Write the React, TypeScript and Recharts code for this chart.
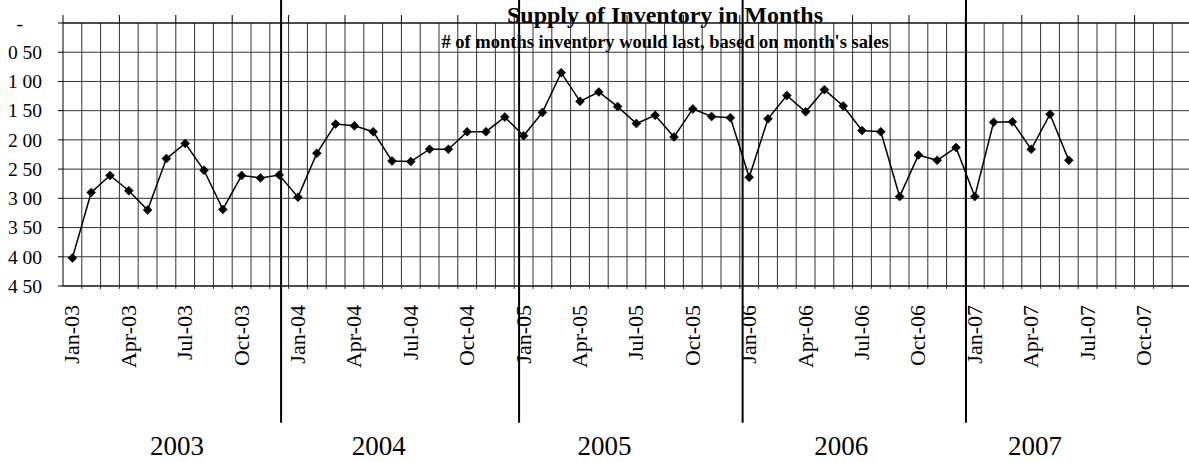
import React from 'react';
import {
  LineChart,
  Line,
  XAxis,
  YAxis,
  CartesianGrid,
  ReferenceLine,
  ReferenceDot,
} from 'recharts';

// ---------- data ----------
const monthNames = ['Jan', 'Feb', 'Mar', 'Apr', 'May', 'Jun', 'Jul', 'Aug', 'Sep', 'Oct', 'Nov', 'Dec'];
const yearSuffixes = ['03', '04', '05', '06', '07'];
const categories: string[] = yearSuffixes.flatMap((y) => monthNames.map((m) => `${m}-${y}`));

const supply2003 = [4.02, 2.9, 2.61, 2.87, 3.2, 2.32, 2.06, 2.52, 3.19, 2.61, 2.65, 2.6];
const supply2004 = [2.98, 2.23, 1.73, 1.76, 1.86, 2.36, 2.37, 2.16, 2.16, 1.86, 1.86, 1.61];
const supply2005 = [1.93, 1.53, 0.85, 1.34, 1.18, 1.43, 1.72, 1.58, 1.95, 1.47, 1.6, 1.62];
const supply2006 = [2.64, 1.64, 1.24, 1.52, 1.14, 1.42, 1.84, 1.86, 2.97, 2.26, 2.35, 2.13];
const supply2007 = [2.97, 1.7, 1.69, 2.16, 1.56, 2.35];
const supplyValues: number[] = [...supply2003, ...supply2004, ...supply2005, ...supply2006, ...supply2007];

const yTickValues = [0, 0.5, 1, 1.5, 2, 2.5, 3, 3.5, 4, 4.5];
const yTickLabels = ['-', '0 50', '1 00', '1 50', '2 00', '2 50', '3 00', '3 50', '4 00', '4 50'];

const xLabelTicks = [0, 3, 6, 9, 12, 15, 18, 21, 24, 27, 30, 33, 36, 39, 42, 45, 48, 51, 54, 57];

const yearLabels = ['2003', '2004', '2005', '2006', '2007'];
const yearLabelPos = [5.56, 16.3, 28.3, 40.9, 51.2];
const yearSeparators = [11.1, 23.76, 35.65, 47.53];

const title = 'Supply of Inventory in Months';
const subtitle = "# of months inventory would last, based on month's sales";

const data = categories.map((c, i) => ({
  idx: i,
  label: c,
  value: i < supplyValues.length ? supplyValues[i] : null,
}));

// layout helpers (not data)
const monthBoundaries = Array.from({ length: 59 }, (_, k) => k + 0.5);
const quarterBoundaries = xLabelTicks.map((t) => t - 0.5);

const FONT = "'Liberation Serif', 'Times New Roman', Times, serif";

const Diamond = (props: any) => {
  const { cx, cy, index, value } = props;
  if (cx == null || cy == null || value == null || Number.isNaN(cy)) return <g key={`d${index}`} />;
  const s = 4.5;
  return (
    <path
      key={`d${index}`}
      d={`M${cx},${cy - s}L${cx + s},${cy}L${cx},${cy + s}L${cx - s},${cy}Z`}
      fill="#000"
      stroke="#000"
      strokeWidth={0.5}
    />
  );
};

const XTick = (props: any) => {
  const { x, y, payload } = props;
  const bx = x + 7;
  const by = y;
  return (
    <text
      x={bx}
      y={by}
      transform={`rotate(-90 ${bx} ${by})`}
      textAnchor="end"
      fontFamily={FONT}
      fontSize={22}
      fill="#000"
    >
      {categories[payload.value]}
    </text>
  );
};

const YTick = (props: any) => {
  const { x, y, payload } = props;
  const i = yTickValues.indexOf(payload.value);
  const label = i >= 0 ? yTickLabels[i] : '';
  const isDash = payload.value === 0;
  return (
    <text
      x={isDash ? x - 19 : x}
      y={y}
      dy="0.35em"
      textAnchor="end"
      fontFamily={FONT}
      fontSize={19.5}
      fill="#000"
    >
      {label}
    </text>
  );
};

export default function App() {
  return (
    <div
      style={{
        position: 'absolute',
        left: 0,
        top: 0,
        width: 1189,
        height: 462,
        overflow: 'hidden',
        background: '#fff',
      }}
    >
      <LineChart
        width={1191}
        height={462}
        data={data}
        margin={{ top: 0, right: 0, bottom: 0, left: 0 }}
      >
        <CartesianGrid xAxisId="main" vertical={false} stroke="#333" strokeWidth={1} />
        <XAxis
          xAxisId="top"
          orientation="top"
          dataKey="idx"
          type="number"
          domain={[-0.5, 59.5]}
          allowDataOverflow
          ticks={quarterBoundaries}
          interval={0}
          tickSize={8}
          tickFormatter={() => ''}
          height={23}
          stroke="#000"
          tickLine={{ stroke: '#000' }}
        />
        <XAxis
          xAxisId="main"
          dataKey="idx"
          type="number"
          domain={[-0.5, 59.5]}
          allowDataOverflow
          ticks={xLabelTicks}
          interval={0}
          tickLine={false}
          tickSize={0}
          tickMargin={19}
          tick={<XTick />}
          height={176}
          stroke="#000"
        />
        <YAxis
          reversed
          domain={[0, 4.5]}
          ticks={yTickValues}
          interval={0}
          width={63}
          tickSize={5}
          tickMargin={16}
          tick={<YTick />}
          stroke="#000"
          tickLine={{ stroke: '#000' }}
        />
        {monthBoundaries.map((b) => (
          <ReferenceLine
            key={`vb${b}`}
            xAxisId="main"
            segment={[
              { x: b, y: 0 },
              { x: b, y: 4.55 },
            ]}
            ifOverflow="visible"
            stroke="#333"
            strokeWidth={1}
          />
        ))}
        {yearSeparators.map((s) => (
          <ReferenceLine
            key={`ys${s}`}
            xAxisId="main"
            segment={[
              { x: s, y: -0.4 },
              { x: s, y: 6.84 },
            ]}
            ifOverflow="visible"
            stroke="#000"
            strokeWidth={2}
          />
        ))}
        {yearLabels.map((yl, i) => (
          <ReferenceDot
            key={`yl${yl}`}
            xAxisId="main"
            x={yearLabelPos[i]}
            y={7.39}
            r={1}
            ifOverflow="visible"
            shape={(p: any) => (
              <text
                x={p.cx}
                y={p.cy}
                textAnchor="middle"
                fontFamily={FONT}
                fontSize={27}
                fill="#000"
              >
                {yl}
              </text>
            )}
          />
        ))}
        <Line
          xAxisId="main"
          type="linear"
          dataKey="value"
          stroke="#000"
          strokeWidth={1.5}
          dot={Diamond}
          activeDot={false}
          isAnimationActive={false}
          connectNulls={false}
        />
      </LineChart>
      <svg
        width={1189}
        height={60}
        style={{ position: 'absolute', left: 0, top: 0, pointerEvents: 'none' }}
      >
        <text x={665} y={23} textAnchor="middle" fontFamily={FONT} fontWeight="bold" fontSize={24} fill="#000">
          {title}
        </text>
        <text x={665} y={48} textAnchor="middle" fontFamily={FONT} fontWeight="bold" fontSize={18.5} fill="#000">
          {subtitle}
        </text>
      </svg>
    </div>
  );
}
